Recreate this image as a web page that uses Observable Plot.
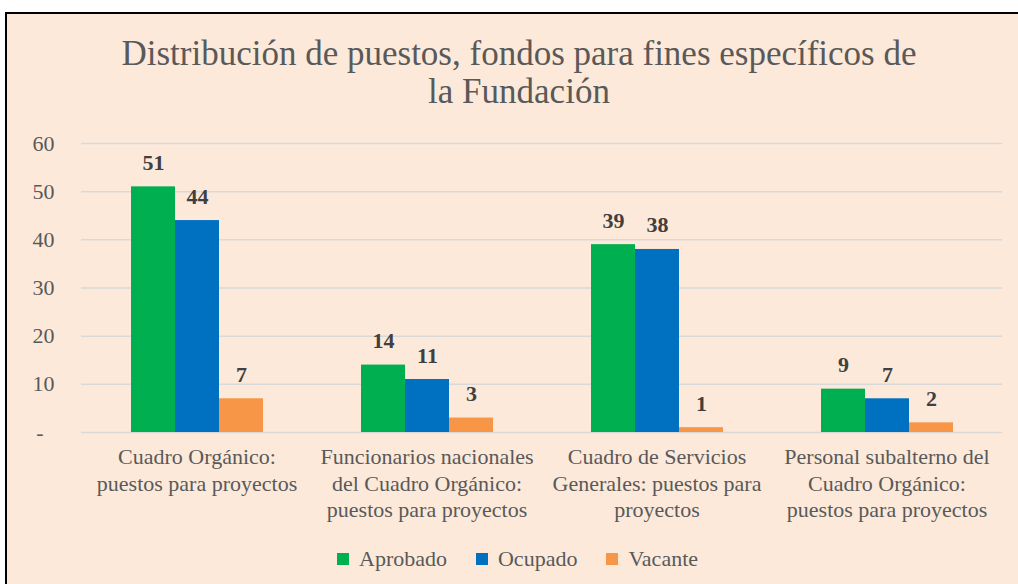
<!DOCTYPE html>
<html>
<head>
<meta charset="utf-8">
<script src="https://cdn.jsdelivr.net/npm/d3@7"></script>
<script src="https://cdn.jsdelivr.net/npm/@observablehq/plot@0.6"></script>
<style>
  html, body { margin: 0; padding: 0; background: #ffffff; }
  body { width: 1018px; height: 584px; overflow: hidden; position: relative; font-family: "Liberation Serif", "Times New Roman", serif; }
  #frame { position: absolute; left: 5px; top: 12px; width: 1040px; height: 620px; border: 2px solid #000; background: #FCE9DA; box-sizing: border-box; }
  #title { position: absolute; left: 0; top: 35px; width: 1038px; text-align: center; font-size: 35px; line-height: 38px; color: #595959; }
  .layer { position: absolute; left: 0; top: 120px; }
  #legend { position: absolute; left: 337px; top: 546px; display: flex; align-items: center; font-size: 22px; line-height: 26px; color: #595959; }
  .item { display: flex; align-items: center; margin-right: 29px; }
  .sw { width: 12px; height: 12px; margin-right: 10px; }
</style>
</head>
<body>
<div id="frame"></div>
<div id="title">Distribución de puestos, fondos para fines específicos de<br>la Fundación</div>
<div id="grid" class="layer"></div>
<div id="chart" class="layer"></div>
<div id="legend"></div>
<script>
const categories = [
  "Cuadro Orgánico: puestos para proyectos",
  "Funcionarios nacionales del Cuadro Orgánico: puestos para proyectos",
  "Cuadro de Servicios Generales: puestos para proyectos",
  "Personal subalterno del Cuadro Orgánico: puestos para proyectos"
];
const categoryLabels = [
  "Cuadro Orgánico:\npuestos para proyectos",
  "Funcionarios nacionales\ndel Cuadro Orgánico:\npuestos para proyectos",
  "Cuadro de Servicios\nGenerales: puestos para\nproyectos",
  "Personal subalterno del\nCuadro Orgánico:\npuestos para proyectos"
];
const series = ["Aprobado", "Ocupado", "Vacante"];
const aprobado = [51, 14, 39, 9];
const ocupado = [44, 11, 38, 7];
const vacante = [7, 3, 1, 2];
const yTicks = [0, 10, 20, 30, 40, 50, 60];
const colors = ["#00B050", "#0070C0", "#F79646"];

const seriesValues = [aprobado, ocupado, vacante];
const data = categories.flatMap((c, i) =>
  series.map((s, j) => ({category: c, series: s, value: seriesValues[j][i]}))
);
const labelRows = categories.map((c, i) => ({category: c, label: categoryLabels[i]}));

const dims = {width: 1018, height: 410, marginLeft: 81, marginRight: 16, marginTop: 23, marginBottom: 98};
const font = "'Liberation Serif', 'Times New Roman', serif";

// Grid and y axis layer (spans the whole plot width)
const grid = Plot.plot({
  ...dims,
  style: {background: "transparent", fontFamily: font, overflow: "visible"},
  y: {domain: [0, 60], axis: null},
  marks: [
    Plot.ruleY(yTicks, {stroke: "#D9D9D9", strokeWidth: 1.5}),
    Plot.axisY({ticks: yTicks, tickSize: 0, tickPadding: 27, fontSize: 22, color: "#595959",
      tickFormat: d => d === 0 ? "-\u2002" : String(d), label: null})
  ]
});
document.getElementById("grid").appendChild(grid);

// Bars layer (faceted by category)
const chart = Plot.plot({
  ...dims,
  style: {background: "transparent", fontFamily: font, overflow: "visible"},
  fx: {domain: categories, paddingInner: 0.42, paddingOuter: 0.21, axis: null, label: null},
  x: {domain: series, padding: 0, axis: null},
  y: {domain: [0, 60], axis: null},
  color: {domain: series, range: colors},
  marks: [
    Plot.barY(data, {fx: "category", x: "series", y: "value", fill: "series"}),
    Plot.text(data, {fx: "category", x: "series", y: "value", text: d => String(d.value),
      dy: -17, lineAnchor: "bottom", fontWeight: "bold", fontSize: 22, fill: "#404040"}),
    Plot.text(labelRows, {fx: "category", text: "label", frameAnchor: "bottom", lineAnchor: "top",
      dy: 13, fontSize: 22, fill: "#595959", lineHeight: 1.2})
  ]
});
document.getElementById("chart").appendChild(chart);

const legend = document.getElementById("legend");
series.forEach((s, i) => {
  const item = document.createElement("div");
  item.className = "item";
  const sw = document.createElement("span");
  sw.className = "sw";
  sw.style.background = colors[i];
  const t = document.createElement("span");
  t.textContent = s;
  item.appendChild(sw);
  item.appendChild(t);
  legend.appendChild(item);
});
</script>
</body>
</html>
